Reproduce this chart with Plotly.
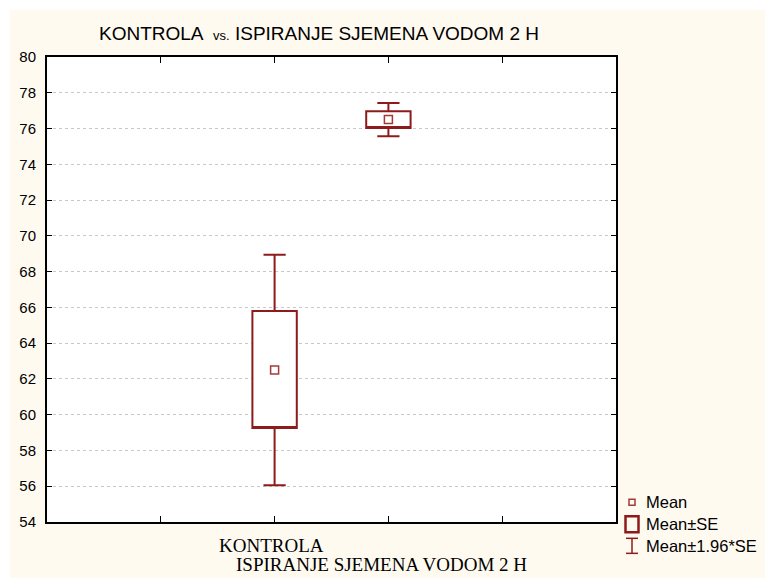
import plotly.graph_objects as go

# ---- data ----
categories = ["KONTROLA", "ISPIRANJE SJEMENA VODOM 2 H"]
mean_vals = [62.5, 76.5]
se_low = [59.25, 76.03]
se_high = [65.8, 76.97]
ci_low = [56.05, 75.57]
ci_high = [68.95, 77.43]
y_ticks = list(range(54, 81, 2))

RED = "#8E1B1B"
CREAM = "#FFFAF0"
W, H = 765, 578
L, R, T, B = 47, 616, 57.3, 521.7

xpos = [i + 2 for i in range(len(categories))]

fig = go.Figure()

for i, c in enumerate(categories):
    fig.add_trace(go.Box(
        x=[xpos[i]], q1=[se_low[i]], median=[se_low[i]], q3=[se_high[i]],
        lowerfence=[ci_low[i]], upperfence=[ci_high[i]],
        width=0.39, whiskerwidth=0.5, fillcolor="white",
        line=dict(color=RED, width=2), boxpoints=False,
        showlegend=False, name=c, hoverinfo="skip"))

fig.add_trace(go.Scatter(
    x=xpos, y=mean_vals, mode="markers",
    marker=dict(symbol="square-open", size=8, color="#A33A3A", line=dict(width=1.5)),
    showlegend=False, name="Mean"))

# convert screenshot pixels to paper coordinates
def px(x):
    return (x - L) / (R - L)

def py(y):
    return (B - y) / (B - T)

shapes = [
    # white outer border (top and left) of the original image
    dict(type="rect", xref="paper", yref="paper", x0=px(-5), x1=px(W + 5), y0=py(10), y1=py(-5),
         fillcolor="white", line=dict(width=0), layer="above"),
    dict(type="rect", xref="paper", yref="paper", x0=px(-5), x1=px(10), y0=py(H + 5), y1=py(-5),
         fillcolor="white", line=dict(width=0), layer="above"),
    # legend symbols
    dict(type="rect", xref="paper", yref="paper", x0=px(629), x1=px(635), y0=py(499), y1=py(505),
         line=dict(color="#A33A3A", width=1.5)),
    dict(type="rect", xref="paper", yref="paper", x0=px(625.5), x1=px(638.5), y0=py(516), y1=py(532),
         line=dict(color=RED, width=2.5)),
    dict(type="line", xref="paper", yref="paper", x0=px(632), x1=px(632), y0=py(538), y1=py(553),
         line=dict(color=RED, width=1.5)),
    dict(type="line", xref="paper", yref="paper", x0=px(626), x1=px(638), y0=py(538), y1=py(538),
         line=dict(color=RED, width=1.5)),
    dict(type="line", xref="paper", yref="paper", x0=px(626), x1=px(638), y0=py(553), y1=py(553),
         line=dict(color=RED, width=1.5)),
]

LEG_FONT = dict(family="Liberation Sans, Arial", size=16.5, color="black")
annotations = [
    dict(text="KONTROLA  <span style='font-size:13px'>vs.</span> ISPIRANJE SJEMENA VODOM 2 H",
         xref="paper", yref="paper", x=px(97), y=py(34), xanchor="left", yanchor="middle",
         showarrow=False, font=dict(family="Liberation Sans, Arial", size=19, color="black")),
    dict(text="Mean", xref="paper", yref="paper", x=px(644), y=py(502), xanchor="left",
         yanchor="middle", showarrow=False, font=LEG_FONT),
    dict(text="Mean±SE", xref="paper", yref="paper", x=px(644), y=py(524), xanchor="left",
         yanchor="middle", showarrow=False, font=LEG_FONT),
    dict(text="Mean±1.96*SE", xref="paper", yref="paper", x=px(644), y=py(546), xanchor="left",
         yanchor="middle", showarrow=False, font=LEG_FONT),
]
label_yc = [545, 564.5]
label_shift = [-3, -7]
for i, c in enumerate(categories):
    annotations.append(dict(
        text=c, x=xpos[i], xref="x", y=py(label_yc[i]), yref="paper", xshift=label_shift[i],
        xanchor="center", yanchor="middle", showarrow=False,
        font=dict(family="Liberation Serif, Times New Roman", size=19, color="black")))

fig.update_layout(
    width=W, height=H,
    margin=dict(l=L, r=W - R, t=T, b=H - B, pad=0),
    paper_bgcolor=CREAM, plot_bgcolor="white",
    shapes=shapes, annotations=annotations, showlegend=False,
    xaxis=dict(range=[0, 5], tickvals=[1, 2, 3, 4], showticklabels=False,
               ticks="inside", ticklen=6, tickwidth=1, tickcolor="black",
               showline=True, linecolor="black", linewidth=2, mirror="ticks",
               showgrid=False, zeroline=False),
    yaxis=dict(range=[54, 80], tickvals=y_ticks, ticktext=[str(v) for v in y_ticks],
               ticks="inside", ticklen=5, tickwidth=1, tickcolor="black",
               showline=True, linecolor="black", linewidth=2, mirror="ticks",
               showgrid=True, gridcolor="#C8C8C8", griddash="dot", gridwidth=1,
               zeroline=False, ticklabelstandoff=6,
               tickfont=dict(family="Liberation Sans, Arial", size=15, color="black")),
)

fig.write_html(
    "out.html",
    config={"displayModeBar": False},
    post_script="document.body.style.margin='0';document.documentElement.style.overflow='hidden';",
)
